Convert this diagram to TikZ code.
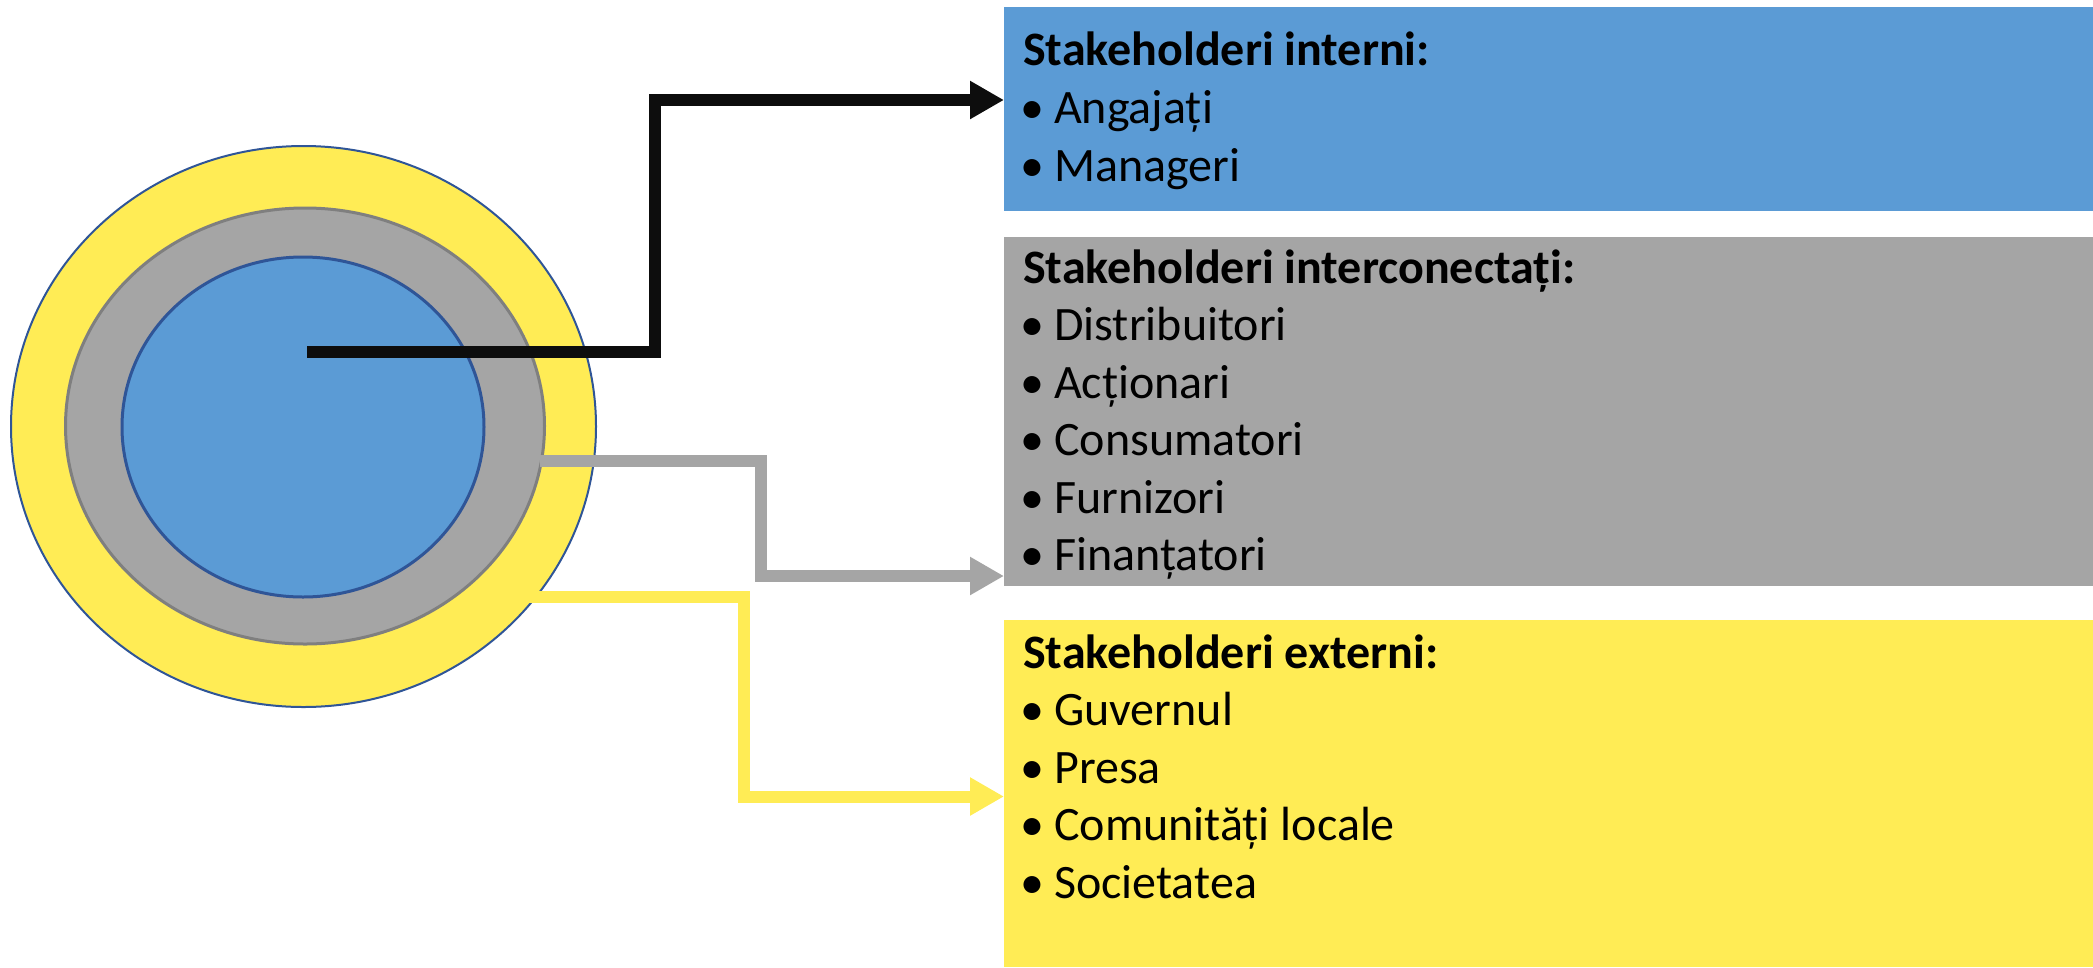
\documentclass[tikz,border=0pt]{standalone}
\usepackage{fontspec}
\setmainfont{Carlito}
\usetikzlibrary{shapes.geometric,arrows.meta}
\definecolor{cblue}{HTML}{5B9BD5}
\definecolor{cgray}{HTML}{A5A5A5}
\definecolor{cyellow}{HTML}{FFEC55}
\definecolor{cdark}{HTML}{2F5597}
\definecolor{cgrayline}{HTML}{7F7F7F}
\definecolor{cblack}{HTML}{0D0D0D}
\tikzset{
  ring/.style={ellipse, inner sep=0pt},
  panel/.style={rectangle, anchor=north west, inner sep=0pt, minimum width=1089pt},
  head/.style={anchor=base west, inner sep=0pt, font=\fontsize{48}{57.6}\selectfont\bfseries},
  item/.style={anchor=base west, inner sep=0pt, font=\fontsize{48}{57.6}\selectfont},
  conn/.style={line width=12pt, line join=miter, -{Triangle[length=34pt,width=36pt]}}
}
\newcommand{\bul}{\llap{\textbullet\hspace{10pt}}}
\begin{document}
\begin{tikzpicture}[x=1pt,y=-1pt]
\useasboundingbox (0,0) rectangle (2093,967);
% rings
\node[ring, fill=cyellow, draw=cdark, line width=2pt, minimum width=585pt, minimum height=561pt] (outer) at (303.5,426.5) {};
\node[ring, fill=cgray, draw=cgrayline, line width=3pt, minimum width=479pt, minimum height=436pt] (mid) at (305,426) {};
\node[ring, fill=cblue, draw=cdark, line width=3pt, minimum width=362pt, minimum height=340pt] (inner) at (303,427) {};
% panels
\node[panel, fill=cblue, minimum height=204pt] (bint) at (1004,7) {};
\node[panel, fill=cgray, minimum height=349pt] (bcon) at (1004,237) {};
\node[panel, fill=cyellow, minimum height=347pt] (bext) at (1004,620) {};
% texts
\node[head] (h1) at (1023,65) {Stakeholderi interni:};
\node[item] (a1) at (1054,123) {\bul Angajați};
\node[item] (a2) at (1054,181) {\bul Manageri};
\node[head] (h2) at (1023,283) {Stakeholderi interconectați:};
\node[item] (b1) at (1054,340) {\bul Distribuitori};
\node[item] (b2) at (1054,398) {\bul Acționari};
\node[item] (b3) at (1054,455) {\bul Consumatori};
\node[item] (b4) at (1054,513) {\bul Furnizori};
\node[item] (b5) at (1054,570) {\bul Finanțatori};
\node[head] (h3) at (1023,668) {Stakeholderi externi:};
\node[item] (c1) at (1054,725) {\bul Guvernul};
\node[item] (c2) at (1054,783) {\bul Presa};
\node[item] (c3) at (1054,840) {\bul Comunități locale};
\node[item] (c4) at (1054,898) {\bul Societatea};
% connectors
\coordinate (s1) at (307,352);
\coordinate (k1) at (655,100);
\coordinate (s2) at (540,461);
\coordinate (k2) at (761,576);
\coordinate (s3) at (520,597);
\coordinate (k3) at (743.5,796.5);
\draw[conn, draw=cblack] (s1) -| (k1) -- (bint.west |- k1);
\draw[conn, draw=cgray] (s2) -| (k2) -- (bcon.west |- k2);
\draw[conn, draw=cyellow] (s3) -| (k3) -- (bext.west |- k3);
\end{tikzpicture}
\end{document}
